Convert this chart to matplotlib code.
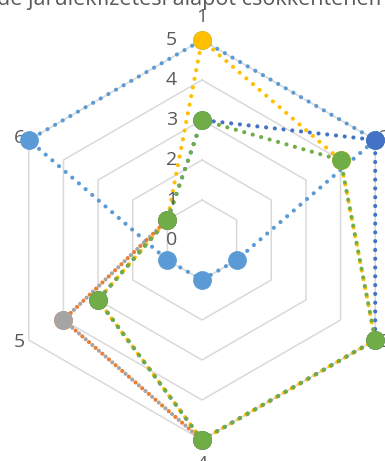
import numpy as np
import matplotlib
matplotlib.use("Agg")
import matplotlib.pyplot as plt

plt.rcParams['font.family'] = ['Open Sans', 'DejaVu Sans']

# data
categories = ["1", "2", "3", "4", "5", "6"]
radial_ticks = [0, 1, 2, 3, 4, 5]
title_text = "de járulékfizetési alapot csökkentenem"

s_lightblue = [5, 5, 1, 1, 1, 5]
s_orange = [np.nan, np.nan, np.nan, 5, 4, 1]
s_gray = [np.nan, np.nan, np.nan, 5, 4, 1]
s_yellow = [5, 4, 5, 5, 3, 1]
s_darkblue = [3, 5, 5, 5, 3, 1]
s_green = [3, 4, 5, 5, 3, 1]

series = [s_lightblue, s_orange, s_gray, s_yellow, s_darkblue, s_green]
colors = ["#5B9BD5", "#ED7D31", "#A5A5A5", "#FFC000", "#4472C4", "#70AD47"]
# small dash phase shifts so overlapping dotted lines interleave like in Excel
dash_offsets = [0, 0, 1.05, 0.7, 1.4, 0]

text_color = "#595959"
grid_color = "#D9D9D9"

W, H = 385, 461
fig = plt.figure(figsize=(W / 100, H / 100), dpi=100)
cx, cy, R = 202, 240, 200
ax = fig.add_axes([(cx - R) / W, (H - cy - R) / H, 2 * R / W, 2 * R / H],
                  projection='polar')
ax.set_theta_offset(np.pi / 2)
ax.set_theta_direction(-1)
ax.set_ylim(0, 5)
ax.grid(False)
ax.spines['polar'].set_visible(False)
ax.set_xticks([])
ax.set_yticks([])
ax.patch.set_visible(False)

n = len(categories)
angles = np.arange(n) * 2 * np.pi / n
closed = np.append(angles, angles[0])

# hexagon gridlines
for v in radial_ticks[1:]:
    ax.plot(closed, [v] * (n + 1), color=grid_color, lw=1.1, zorder=1, clip_on=False)

# series
for i, (vals, c) in enumerate(zip(series, colors)):
    v = np.append(vals, vals[0])
    ax.plot(closed, v, color=c, lw=3.0, linestyle=(dash_offsets[i], (0.01, 2.1)),
            dash_capstyle='round', zorder=3 + i * 2, clip_on=False)
    ax.plot(angles, vals, linestyle='none', marker='o', ms=13, color=c,
            mec=c, mew=0.5, zorder=4 + i * 2, clip_on=False)

# category labels
fs = 14
for a, lab in zip(angles, categories):
    deg = np.degrees(a)
    if deg == 0:
        ax.text(a, 5.45, lab, ha='center', va='baseline', fontsize=fs, color=text_color)
    elif deg == 180:
        ax.text(a, 5.38, lab, ha='center', va='top', fontsize=fs, color=text_color)
    elif deg < 180:
        ax.text(a, 5.1, lab, ha='left', va='center', fontsize=fs, color=text_color)
    else:
        ax.text(a, 5.1, lab, ha='right', va='center', fontsize=fs, color=text_color)

# radial tick labels along the first axis
for v in radial_ticks:
    x = cx - 25
    y = cy - v * R / 5
    fig.text(x / W, 1 - y / H, str(v), ha='right', va='center',
             fontsize=fs, color=text_color)

fig.text(0.5, 1 - 5 / H, title_text, ha='center', va='baseline',
         fontsize=15.5, color=text_color)

fig.savefig("out.png", dpi=100)
